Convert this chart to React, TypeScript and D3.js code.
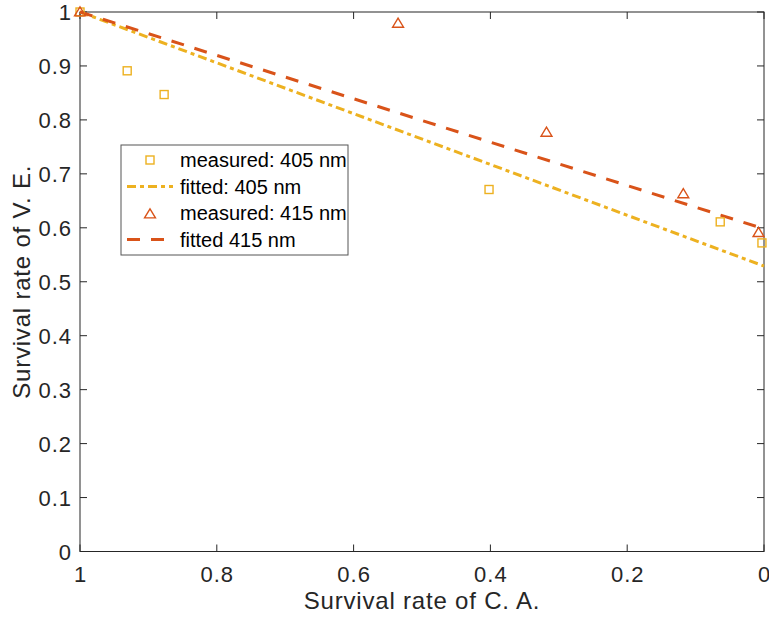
import React from "react";
import * as d3 from "d3";

const meas405X = [1, 0.931, 0.877, 0.402, 0.064, 0.003];
const meas405Y = [1, 0.891, 0.847, 0.671, 0.611, 0.572];
const meas415X = [1, 0.535, 0.318, 0.118, 0.008];
const meas415Y = [1, 0.979, 0.777, 0.663, 0.591];
const fit405X = [1, 0];
const fit405Y = [1, 0.529];
const fit415X = [1, 0];
const fit415Y = [1, 0.598];
const xTicks = [1, 0.8, 0.6, 0.4, 0.2, 0];
const yTicks = [0, 0.1, 0.2, 0.3, 0.4, 0.5, 0.6, 0.7, 0.8, 0.9, 1];
const legendLabels = ["measured: 405 nm", "fitted: 405 nm", "measured: 415 nm", "fitted 415 nm"];

const C405 = "#EDB120";
const C415 = "#D95319";
const AX = "#262626";
const FONT = "Liberation Sans, Arial, Helvetica, sans-serif";

export default function App() {
  const W = 769, H = 621;
  const L = 80, R = 764, T = 12, B = 551.5;
  const x = d3.scaleLinear().domain([1, 0]).range([L, R]);
  const y = d3.scaleLinear().domain([0, 1]).range([B, T]);
  const line = d3.line<[number, number]>().x(d => x(d[0])).y(d => y(d[1]));
  const fit405 = fit405X.map((v, i) => [v, fit405Y[i]] as [number, number]);
  const fit415 = fit415X.map((v, i) => [v, fit415Y[i]] as [number, number]);
  const tri = (cx: number, cy: number, s = 5.2) =>
    `M${cx},${cy - s} L${cx + s * 1.05},${cy + s * 0.75} L${cx - s * 1.05},${cy + s * 0.75} Z`;
  const sq = 8;
  const tl = 7;
  const lgX = 121, lgY = 145, lgW = 227, lgH = 110;
  const rowY = [160, 186.5, 213, 239.5];
  const dash405 = "9,4,4,4";
  const dash415 = "13,11";
  return (
    <svg width={W} height={H} style={{ position: "absolute", left: 0, top: 0, background: "#fff" }}>
      <defs>
        <clipPath id="lgclip">
          <rect x={lgX} y={lgY} width={lgW} height={lgH} />
        </clipPath>
      </defs>
      <rect x={0} y={0} width={W} height={H} fill="#fff" />
      {xTicks.map(t => (
        <g key={"xt" + t}>
          <line x1={x(t)} x2={x(t)} y1={B} y2={B - tl} stroke={AX} strokeWidth={1} />
          <line x1={x(t)} x2={x(t)} y1={T} y2={T + tl} stroke={AX} strokeWidth={1} />
          <text x={x(t) + 0.5} y={582} textAnchor="middle" fontFamily={FONT} fontSize={22} letterSpacing={1} fill={AX}>{t}</text>
        </g>
      ))}
      {yTicks.map(t => (
        <g key={"yt" + t}>
          <line x1={L} x2={L + tl} y1={y(t)} y2={y(t)} stroke={AX} strokeWidth={1} />
          <line x1={R} x2={R - tl} y1={y(t)} y2={y(t)} stroke={AX} strokeWidth={1} />
          <text x={72} y={y(t) + 8} textAnchor="end" fontFamily={FONT} fontSize={22} letterSpacing={1} fill={AX}>{t}</text>
        </g>
      ))}
      <rect x={L} y={T} width={R - L} height={B - T} fill="none" stroke={AX} strokeWidth={1} />
      <path d={line(fit405) || ""} fill="none" stroke={C405} strokeWidth={3} strokeDasharray={dash405} />
      <path d={line(fit415) || ""} fill="none" stroke={C415} strokeWidth={3} strokeDasharray={dash415} />
      {meas405X.map((v, i) => (
        <rect key={"s" + i} x={x(v) - sq / 2} y={y(meas405Y[i]) - sq / 2} width={sq} height={sq}
          fill="none" stroke={C405} strokeWidth={1.4} />
      ))}
      {meas415X.map((v, i) => (
        <path key={"t" + i} d={tri(x(v), y(meas415Y[i]))} fill="none" stroke={C415} strokeWidth={1.4} />
      ))}
      <rect x={lgX} y={lgY} width={lgW} height={lgH} fill="#fff" stroke="#555" strokeWidth={1} />
      <rect x={150 - 4} y={rowY[0] - 4} width={8} height={8} fill="none" stroke={C405} strokeWidth={1.4} />
      <line x1={127} x2={173} y1={rowY[1]} y2={rowY[1]} stroke={C405} strokeWidth={3} strokeDasharray={dash405} />
      <path d={tri(150, rowY[2] + 1)} fill="none" stroke={C415} strokeWidth={1.4} />
      <line x1={127} x2={166} y1={rowY[3]} y2={rowY[3]} stroke={C415} strokeWidth={3} strokeDasharray={dash415} />
      <g clipPath="url(#lgclip)">
        {legendLabels.map((s, i) => (
          <text key={"lg" + i} x={180} y={rowY[i] + 7} fontFamily={FONT} fontSize={20} letterSpacing={0} fill="#000">{s}</text>
        ))}
      </g>
      <text x={(L + R) / 2} y={609} textAnchor="middle" fontFamily={FONT} fontSize={24} letterSpacing={0.8} fill={AX}>Survival rate of C. A.</text>
      <text transform={`translate(30,${(T + B) / 2}) rotate(-90)`} textAnchor="middle" fontFamily={FONT} fontSize={24} letterSpacing={0.8} fill={AX}>Survival rate of V. E.</text>
    </svg>
  );
}
